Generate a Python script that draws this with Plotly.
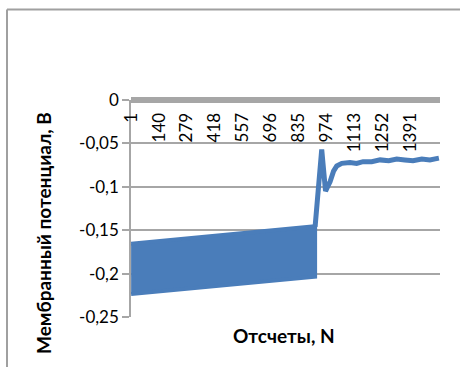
import plotly.graph_objects as go

# --- data ---
band_n = [1, 918]
band_upper = [-0.1655, -0.1455]
band_lower = [-0.2235, -0.2035]

tail_n = [918, 934, 951, 970, 980, 993, 1010, 1026, 1051, 1092, 1125, 1157,
          1200, 1242, 1285, 1325, 1365, 1406, 1450, 1490, 1535]
tail_v = [-0.146, -0.108, -0.057, -0.105, -0.100, -0.094, -0.082, -0.076,
          -0.073, -0.072, -0.073, -0.071, -0.071, -0.069, -0.070, -0.068,
          -0.069, -0.070, -0.068, -0.069, -0.067]

x_ticks = [1, 140, 279, 418, 557, 696, 835, 974, 1113, 1252, 1391]
y_ticks = [0, -0.05, -0.1, -0.15, -0.2, -0.25]
y_ticktext = ["0", "-0,05", "-0,1", "-0,15", "-0,2", "-0,25"]

blue = "#4a7dba"
grid = "#a6a6a6"
font = "Lato"

fig = go.Figure()
fig.add_trace(go.Scatter(
    x=band_n + band_n[::-1],
    y=band_upper + band_lower[::-1],
    fill="toself", fillcolor=blue, mode="lines",
    line=dict(color=blue, width=4), hoverinfo="skip", showlegend=False))
fig.add_trace(go.Scatter(
    x=tail_n, y=tail_v, mode="lines",
    line=dict(color=blue, width=5, shape="linear"),
    showlegend=False))

W, H = 460, 367
L, R, T, B = 131, 20, 100, 50
pw, ph = W - L - R, H - T - B

def px(x):
    return (x - L) / pw

def py(y):
    return (H - B - y) / ph

fig.update_layout(
    width=W, height=H,
    margin=dict(l=L, r=R, t=T, b=B, autoexpand=False),
    plot_bgcolor="white", paper_bgcolor="white",
    font=dict(family=font, color="#000000"),
    xaxis=dict(
        range=[0.5, 1540.5], side="bottom", anchor="free", position=1,
        tickmode="array", tickvals=x_ticks,
        ticktext=[str(v) for v in x_ticks],
        tickangle=-90, automargin=False, ticklabelstandoff=3,
        tickfont=dict(family=font, size=17, color="#000"),
        showgrid=False, zeroline=False, ticks="",
        showline=True, linecolor=grid, linewidth=6,
    ),
    yaxis=dict(
        range=[-0.25, 0], tickmode="array", tickvals=y_ticks,
        ticktext=y_ticktext, ticks="outside", ticklen=7,
        tickcolor=grid, tickwidth=1.5, automargin=False,
        tickfont=dict(family=font, size=17, color="#000"),
        showgrid=True, gridcolor=grid, gridwidth=1.5,
        zeroline=False, showline=True, linecolor=grid, linewidth=1.5,
    ),
    annotations=[
        dict(text="<b>Мембранный потенциал, В</b>", textangle=-90,
             xref="paper", yref="paper", x=px(43), y=py(233),
             showarrow=False, xanchor="center", yanchor="middle",
             font=dict(family=font, size=19, color="#000")),
        dict(text="<b>Отсчеты, N</b>",
             xref="paper", yref="paper", x=px(284), y=py(335),
             showarrow=False, xanchor="center", yanchor="middle",
             font=dict(family=font, size=19, color="#000")),
    ],
    shapes=[
        dict(type="line", xref="paper", yref="paper",
             x0=px(7), y0=py(9.5), x1=px(470), y1=py(9.5),
             line=dict(color="#a0a0a0", width=2)),
        dict(type="line", xref="paper", yref="paper",
             x0=px(7), y0=py(9.5), x1=px(7), y1=py(380),
             line=dict(color="#a0a0a0", width=2)),
    ],
)

fig.write_html("out.html", config={"displayModeBar": False},
               post_script="document.body.style.margin='0';")
